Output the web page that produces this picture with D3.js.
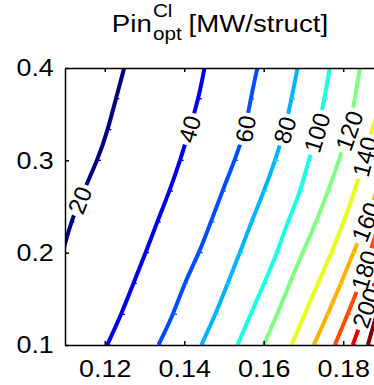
<!DOCTYPE html>
<html>
<head>
<meta charset="utf-8">
<script src="https://cdn.jsdelivr.net/npm/d3@7"></script>
<style>
body { margin: 0; background: #fff; }
svg { display: block; font-family: "Liberation Sans", Arial, sans-serif; }
</style>
</head>
<body>
<script>
// Rows of the grid (y values) where the contour crossings were read
var yRows = [0.1, 0.1333, 0.1667, 0.2, 0.2333, 0.2667, 0.3, 0.3333, 0.3667, 0.4];
var levels = [20, 40, 60, 80, 100, 120, 140, 160, 180, 200, 220];

// x of each contour line at every row (null = not in view)
var x20  = [null, null, null, 0.1094, 0.1115, 0.1146, 0.1182, 0.1208, 0.1228, 0.1249];
var x40  = [0.1206, 0.1242, 0.1272, 0.1303, 0.1332, 0.1363, 0.1390, 0.1413, 0.1436, 0.1451];
var x60  = [0.1335, 0.1373, 0.1400, 0.1438, 0.1467, 0.1496, 0.1527, 0.1554, 0.1567, 0.1584];
var x80  = [0.1443, 0.1479, 0.1509, 0.1540, 0.1569, 0.1601, 0.1629, 0.1653, 0.1670, 0.1685];
var x100 = [0.1534, 0.1567, 0.1601, 0.1634, 0.1660, 0.1693, 0.1713, 0.1736, 0.1753, 0.1766];
var x120 = [0.1600, 0.1634, 0.1665, 0.1698, 0.1732, 0.1762, 0.1789, 0.1816, 0.1829, 0.1842];
var x140 = [0.1670, 0.1703, 0.1736, 0.1771, 0.1801, 0.1829, 0.1852, 0.1872, 0.1897, 0.1917];
var x160 = [0.1726, 0.1761, 0.1794, 0.1826, 0.1857, 0.1884, 0.1912, null, null, null];
var x180 = [0.1779, 0.1811, 0.1843, 0.1867, 0.1892, null, null, null, null, null];
var x200 = [0.1824, 0.1852, 0.1879, null, null, null, null, null, null, null];
var x220 = [0.1862, 0.1884, 0.1907, null, null, null, null, null, null, null];
var contourX = [x20, x40, x60, x80, x100, x120, x140, x160, x180, x200, x220];

// y where each inline label sits (null = no label)
var labelY = [0.257, 0.334, 0.334, 0.333, 0.330, 0.332, 0.304, 0.2333, 0.181, 0.140, null];

var xTicks = [0.12, 0.14, 0.16, 0.18];
var yTicks = [0.1, 0.2, 0.3, 0.4];

var svgWidth = 374;
var svgHeight = 385;
var margin = { top: 68, left: 65, bottom: 40 };
var plotRight = 375;
var stretch = 1.12; // the original text is a bit wider than Arial

var svg = d3.select("body")
  .append("svg")
  .attr("width", svgWidth)
  .attr("height", svgHeight);

var x = d3.scaleLinear().domain([0.11, 0.188]).range([margin.left, plotRight]);
var y = d3.scaleLinear().domain([0.1, 0.4]).range([svgHeight - margin.bottom, margin.top]);

// jet colormap over the contour levels
var jet = d3.scaleLinear()
  .domain([0, 0.125, 0.375, 0.625, 0.875, 1])
  .range(["#000080", "#0000ff", "#00ffff", "#ffff00", "#ff0000", "#800000"]);
var color = function(v) { return jet((v - 20) / 200); };

var defs = svg.append("defs");
defs.append("clipPath").attr("id", "plotClip")
  .append("rect")
  .attr("x", margin.left).attr("y", margin.top)
  .attr("width", plotRight - margin.left)
  .attr("height", y(0.1) - margin.top);

var mask = defs.append("mask").attr("id", "labelMask")
  .attr("maskUnits", "userSpaceOnUse")
  .attr("x", 0).attr("y", 0).attr("width", svgWidth).attr("height", svgHeight);
mask.append("rect").attr("width", svgWidth).attr("height", svgHeight).attr("fill", "white");

var contours = levels.map(function(v, i) {
  var pts = [];
  contourX[i].forEach(function(xv, r) {
    if (xv != null) pts.push([xv, yRows[r]]);
  });
  return { level: v, pts: pts, labelY: labelY[i] };
});

var line = d3.line()
  .curve(d3.curveBasis)
  .x(d => x(d[0]))
  .y(d => y(d[1]));

var plot = svg.append("g").attr("clip-path", "url(#plotClip)");
var lines = plot.append("g").attr("mask", "url(#labelMask)");

lines.selectAll(".contour")
  .data(contours)
  .enter()
  .append("path")
  .attr("class", "contour")
  .attr("d", d => line(d.pts))
  .attr("fill", "none")
  .attr("stroke", d => color(d.level))
  .attr("stroke-width", 4)
  .attr("stroke-linejoin", "round");

// little notches at the vertices, like the original render
contours.forEach(function(c) {
  lines.selectAll(null)
    .data(c.pts)
    .enter()
    .append("line")
    .attr("x1", d => x(d[0]) - 1)
    .attr("x2", d => x(d[0]) + 3.5)
    .attr("y1", d => y(d[1]))
    .attr("y2", d => y(d[1]))
    .attr("stroke", d3.color(color(c.level)).brighter(0.5))
    .attr("stroke-width", 1.3);
});

// inline labels
var labels = plot.append("g");
contours.forEach(function(c) {
  if (c.labelY == null) return;
  var p = c.pts;
  var k = 0;
  for (var j = 0; j < p.length - 1; j++) {
    if (p[j][1] <= c.labelY && p[j + 1][1] >= c.labelY) { k = j; break; }
  }
  var x0 = x(p[k][0]), y0 = y(p[k][1]), x1 = x(p[k + 1][0]), y1 = y(p[k + 1][1]);
  var t = (y(c.labelY) - y0) / (y1 - y0);
  var px = x0 + t * (x1 - x0);
  var py = y(c.labelY);
  var ang = Math.atan2(y1 - y0, x1 - x0) * 180 / Math.PI;
  var tr = `translate(${px},${py}) rotate(${ang})`;

  var txt = labels.append("text")
    .attr("transform", tr)
    .attr("text-anchor", "middle")
    .attr("dy", "0.36em")
    .attr("font-size", 24)
    .attr("fill", "#000")
    .text(c.level);
  var len = txt.node().getComputedTextLength();
  mask.append("rect")
    .attr("transform", tr)
    .attr("x", -len / 2 - 3).attr("y", -10)
    .attr("width", len + 6).attr("height", 20)
    .attr("fill", "black");
});

// axes
var bottomAxis = d3.axisBottom(x).tickValues(xTicks).tickSizeInner(-4).tickSizeOuter(0).tickPadding(15)
  .tickFormat(d3.format(".2f"));
var topAxis = d3.axisTop(x).tickValues(xTicks).tickSizeInner(-4).tickSizeOuter(0).tickFormat("");
var leftAxis = d3.axisLeft(y).tickValues(yTicks).tickSizeInner(-4).tickSizeOuter(0).tickPadding(10)
  .tickFormat(d3.format(".1f"));

function styleAxis(g) {
  g.select(".domain").attr("stroke", "#000").attr("stroke-width", 1.5);
  g.selectAll(".tick line").attr("stroke", "#000").attr("stroke-width", 1.5);
  g.selectAll(".tick text").attr("font-size", 24).attr("fill", "#000")
    .attr("font-family", "Liberation Sans, Arial, sans-serif")
    .attr("transform", `scale(${stretch},1)`);
}

svg.append("g")
  .attr("transform", `translate(0, ${y(0.1)})`)
  .call(bottomAxis)
  .call(styleAxis);

svg.append("g")
  .attr("transform", `translate(0, ${y(0.4)})`)
  .call(topAxis)
  .call(styleAxis);

svg.append("g")
  .attr("transform", `translate(${margin.left}, 0)`)
  .call(leftAxis)
  .call(styleAxis);

// title: Pin^Cl_opt [MW/struct]
var title = svg.append("g");
var tMain = title.append("text").attr("y", 32).attr("font-size", 24).text("Pin");
var w1 = tMain.node().getComputedTextLength();
var tSup = title.append("text").attr("x", w1 + 1).attr("y", 17).attr("font-size", 18).text("Cl");
var tSub = title.append("text").attr("x", w1 + 1).attr("y", 40).attr("font-size", 18).text("opt");
var w2 = w1 + 1 + Math.max(tSup.node().getComputedTextLength(), tSub.node().getComputedTextLength());
var tRest = title.append("text").attr("x", w2 + 6).attr("y", 32).attr("font-size", 24).text("[MW/struct]");
var total = (w2 + 6 + tRest.node().getComputedTextLength()) * 1.15;
title.attr("transform", `translate(${(margin.left + plotRight) / 2 - total / 2}, 0) scale(1.15,1)`);
title.selectAll("text").attr("fill", "#000");
</script>
</body>
</html>
